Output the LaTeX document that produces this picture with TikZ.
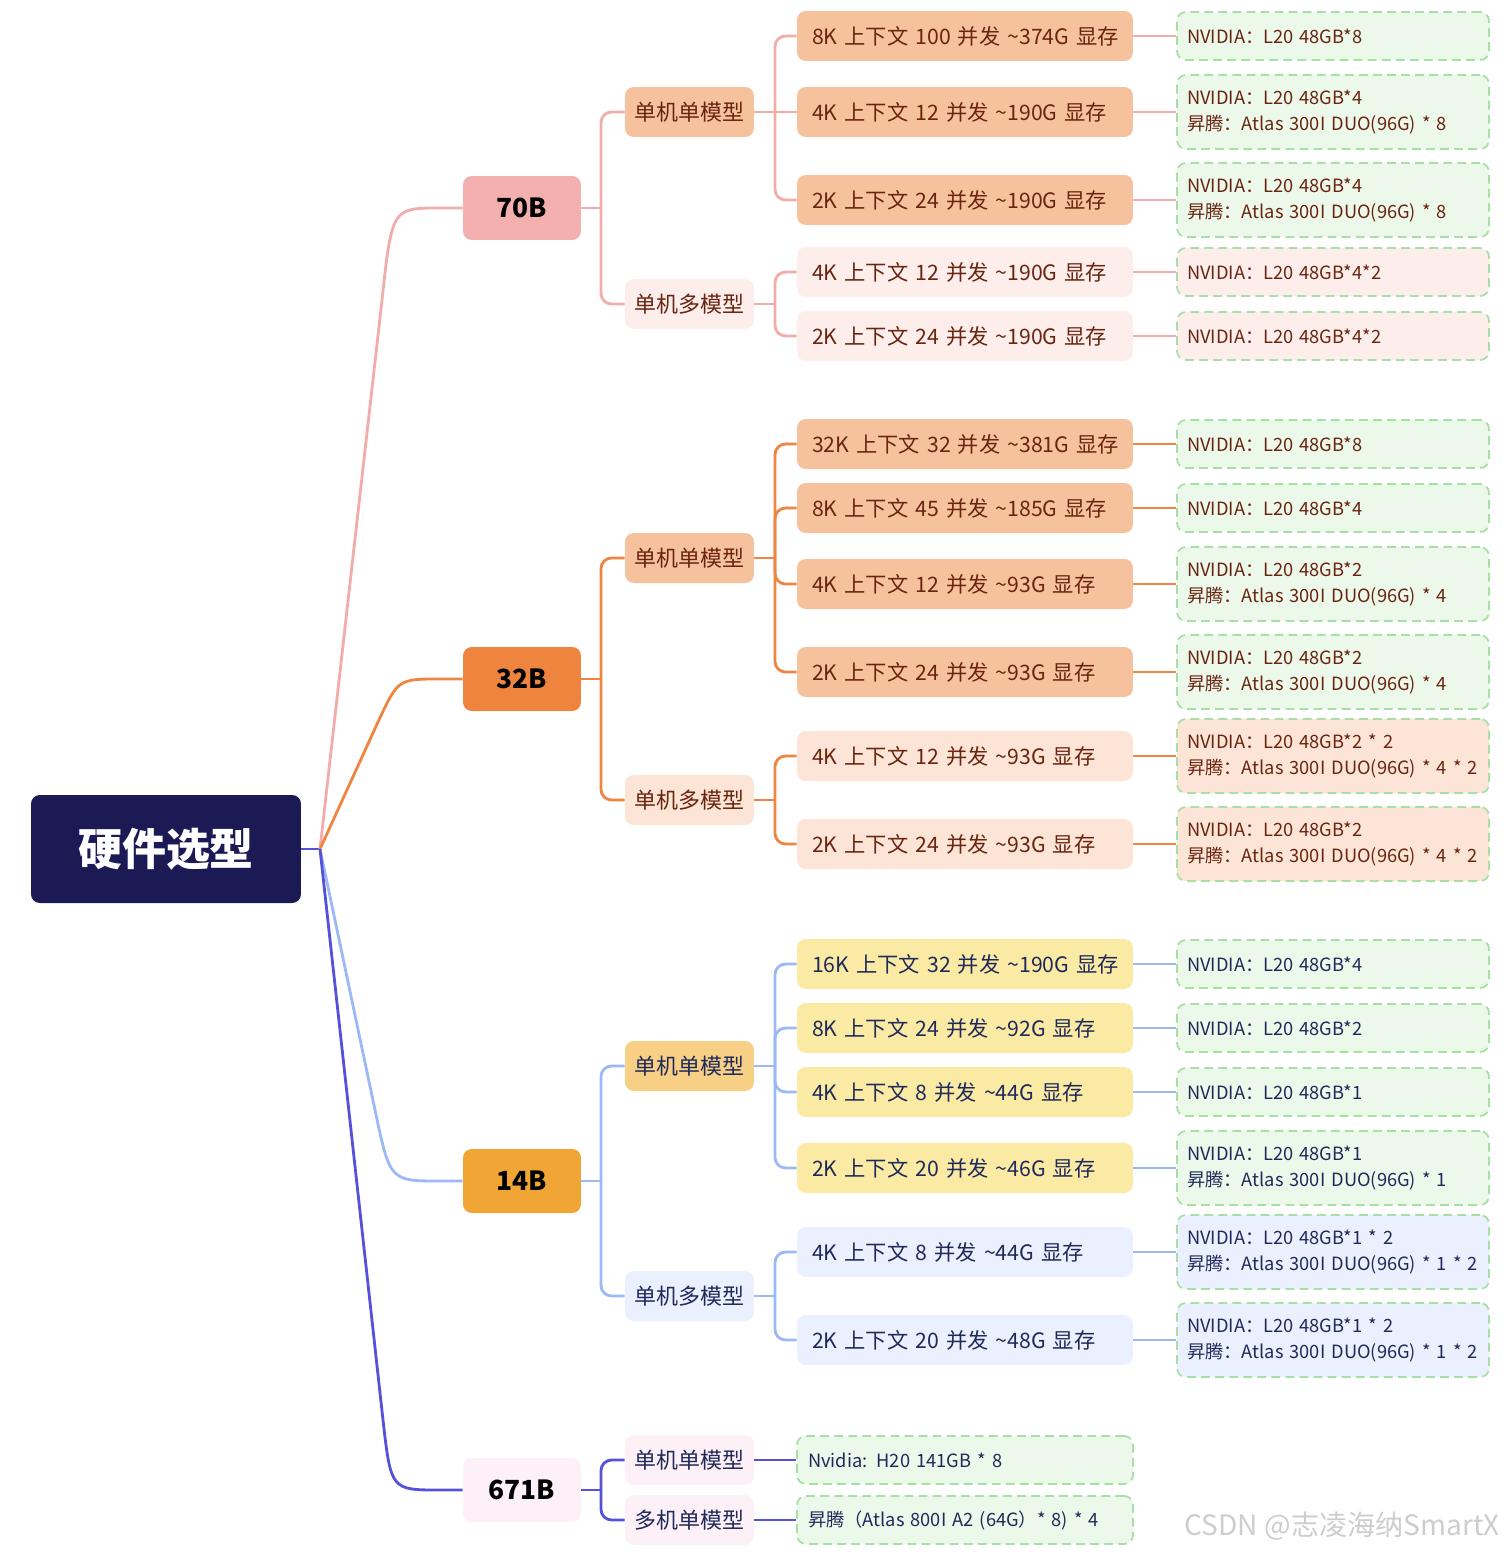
\documentclass[tikz,border=0pt]{standalone}
\usepackage{fontspec}
\setmainfont{Noto Sans CJK SC}
\usepackage{xcolor}
\usepackage{tikz}

\definecolor{rootblue}{HTML}{1C1A55}
\definecolor{ln70}{HTML}{F2ADAA}
\definecolor{ln32}{HTML}{EF8541}
\definecolor{ln14}{HTML}{9BB9F7}
\definecolor{ln671}{HTML}{5552D9}
\definecolor{f70}{HTML}{F3B0AE}
\definecolor{f32}{HTML}{EF843F}
\definecolor{f14}{HTML}{F0A535}
\definecolor{f671}{HTML}{FDF0F7}
\definecolor{peach}{HTML}{F6C29E}
\definecolor{pinklt}{HTML}{FDEEEC}
\definecolor{orangelt}{HTML}{FCE5D6}
\definecolor{yellowmd}{HTML}{F7D085}
\definecolor{yellowlt}{HTML}{FBEAA3}
\definecolor{bluelt}{HTML}{EAF0FD}
\definecolor{gpugreen}{HTML}{EBF8EA}
\definecolor{dashgreen}{HTML}{A7DFA5}
\definecolor{brown}{HTML}{6A2410}
\definecolor{navy}{HTML}{1F2A5B}
\definecolor{mark}{HTML}{CDCDCD}

% one line of text, never broken
\newcommand{\oneline}[1]{\mbox{#1}}

\begin{document}
\begin{tikzpicture}[x=0.02cm, y=-0.02cm,
            rootbox/.style={rectangle, rounded corners=5pt, fill=rootblue, text=white, minimum width=5.4cm, minimum height=2.16cm, font=\fontsize{25}{30}\selectfont\bfseries},
            sizebox/.style={rectangle, rounded corners=5pt, minimum width=2.36cm, minimum height=1.28cm, font=\fontsize{15}{18}\selectfont\bfseries},
            modebox/.style={rectangle, rounded corners=5pt, minimum width=2.58cm, minimum height=1cm, inner sep=0pt, font=\fontsize{12.5}{15}\selectfont},
            ctxbox/.style={rectangle, rounded corners=5pt, minimum height=1cm, text width=6.12cm, inner xsep=0.3cm, inner ysep=0pt, align=left, font=\fontsize{12.1}{15}\selectfont},
            gpubox/.style={rectangle, rounded corners=5pt, draw=dashgreen, line width=1pt, dash pattern=on 5pt off 3pt, fill=gpugreen, text width=5.84cm, inner xsep=0.2cm, inner ysep=0pt, minimum height=0.96cm, align=left, font=\fontsize{10.4}{15.3}\selectfont},
            gpuwide/.style={gpubox, text width=6.28cm, inner xsep=0.22cm},
            twoline/.style={minimum height=1.48cm},
            link/.style={line width=1.6pt}]

            \useasboundingbox (0,0) rectangle (1508,1552);

            \node[rootbox] (hw) at (166,849) {硬件选型};

            % 70B
            \node[sizebox, fill=f70] (m70) at (522,208) {70B};
            \node[modebox, fill=peach, text=brown] (m70a) at (689.5,112) {单机单模型};
            \node[modebox, fill=pinklt, text=brown] (m70b) at (689.5,304) {单机多模型};
            \node[ctxbox, fill=peach, text=brown] (c70a1) at (965,36) {\oneline{8K 上下文 100 并发 \textasciitilde374G 显存}};
            \node[ctxbox, fill=peach, text=brown] (c70a2) at (965,112) {\oneline{4K 上下文 12 并发 \textasciitilde190G 显存}};
            \node[ctxbox, fill=peach, text=brown] (c70a3) at (965,200) {\oneline{2K 上下文 24 并发 \textasciitilde190G 显存}};
            \node[ctxbox, fill=pinklt, text=brown] (c70b1) at (965,272) {\oneline{4K 上下文 12 并发 \textasciitilde190G 显存}};
            \node[ctxbox, fill=pinklt, text=brown] (c70b2) at (965,336) {\oneline{2K 上下文 24 并发 \textasciitilde190G 显存}};
            \node[gpubox, text=brown] (g70a1) at (1333,36) {NVIDIA：L20 48GB*8};
            \node[gpubox, twoline, text=brown] (g70a2) at (1333,112) {NVIDIA：L20 48GB*4\\昇腾：Atlas 300I DUO(96G) * 8};
            \node[gpubox, twoline, text=brown] (g70a3) at (1333,200) {NVIDIA：L20 48GB*4\\昇腾：Atlas 300I DUO(96G) * 8};
            \node[gpubox, fill=pinklt, text=brown] (g70b1) at (1333,272) {NVIDIA：L20 48GB*4*2};
            \node[gpubox, fill=pinklt, text=brown] (g70b2) at (1333,336) {NVIDIA：L20 48GB*4*2};

            % 32B
            \node[sizebox, fill=f32] (m32) at (522,679) {32B};
            \node[modebox, fill=peach, text=brown] (m32a) at (689.5,558) {单机单模型};
            \node[modebox, fill=orangelt, text=brown] (m32b) at (689.5,800) {单机多模型};
            \node[ctxbox, fill=peach, text=brown] (c32a1) at (965,444) {\oneline{32K 上下文 32 并发 \textasciitilde381G 显存}};
            \node[ctxbox, fill=peach, text=brown] (c32a2) at (965,508) {\oneline{8K 上下文 45 并发 \textasciitilde185G 显存}};
            \node[ctxbox, fill=peach, text=brown] (c32a3) at (965,584) {\oneline{4K 上下文 12 并发 \textasciitilde93G 显存}};
            \node[ctxbox, fill=peach, text=brown] (c32a4) at (965,672) {\oneline{2K 上下文 24 并发 \textasciitilde93G 显存}};
            \node[ctxbox, fill=orangelt, text=brown] (c32b1) at (965,756) {\oneline{4K 上下文 12 并发 \textasciitilde93G 显存}};
            \node[ctxbox, fill=orangelt, text=brown] (c32b2) at (965,844) {\oneline{2K 上下文 24 并发 \textasciitilde93G 显存}};
            \node[gpubox, text=brown] (g32a1) at (1333,444) {NVIDIA：L20 48GB*8};
            \node[gpubox, text=brown] (g32a2) at (1333,508) {NVIDIA：L20 48GB*4};
            \node[gpubox, twoline, text=brown] (g32a3) at (1333,584) {NVIDIA：L20 48GB*2\\昇腾：Atlas 300I DUO(96G) * 4};
            \node[gpubox, twoline, text=brown] (g32a4) at (1333,672) {NVIDIA：L20 48GB*2\\昇腾：Atlas 300I DUO(96G) * 4};
            \node[gpubox, twoline, fill=orangelt, text=brown] (g32b1) at (1333,756) {NVIDIA：L20 48GB*2 * 2\\\oneline{昇腾：Atlas 300I DUO(96G) * 4 * 2}};
            \node[gpubox, twoline, fill=orangelt, text=brown] (g32b2) at (1333,844) {NVIDIA：L20 48GB*2\\\oneline{昇腾：Atlas 300I DUO(96G) * 4 * 2}};

            % 14B
            \node[sizebox, fill=f14] (m14) at (522,1181) {14B};
            \node[modebox, fill=yellowmd, text=navy] (m14a) at (689.5,1066) {单机单模型};
            \node[modebox, fill=bluelt, text=navy] (m14b) at (689.5,1296) {单机多模型};
            \node[ctxbox, fill=yellowlt, text=navy] (c14a1) at (965,964) {\oneline{16K 上下文 32 并发 \textasciitilde190G 显存}};
            \node[ctxbox, fill=yellowlt, text=navy] (c14a2) at (965,1028) {\oneline{8K 上下文 24 并发 \textasciitilde92G 显存}};
            \node[ctxbox, fill=yellowlt, text=navy] (c14a3) at (965,1092) {\oneline{4K 上下文 8 并发 \textasciitilde44G 显存}};
            \node[ctxbox, fill=yellowlt, text=navy] (c14a4) at (965,1168) {\oneline{2K 上下文 20 并发 \textasciitilde46G 显存}};
            \node[ctxbox, fill=bluelt, text=navy] (c14b1) at (965,1252) {\oneline{4K 上下文 8 并发 \textasciitilde44G 显存}};
            \node[ctxbox, fill=bluelt, text=navy] (c14b2) at (965,1340) {\oneline{2K 上下文 20 并发 \textasciitilde48G 显存}};
            \node[gpubox, text=navy] (g14a1) at (1333,964) {NVIDIA：L20 48GB*4};
            \node[gpubox, text=navy] (g14a2) at (1333,1028) {NVIDIA：L20 48GB*2};
            \node[gpubox, text=navy] (g14a3) at (1333,1092) {NVIDIA：L20 48GB*1};
            \node[gpubox, twoline, text=navy] (g14a4) at (1333,1168) {NVIDIA：L20 48GB*1\\昇腾：Atlas 300I DUO(96G) * 1};
            \node[gpubox, twoline, fill=bluelt, text=navy] (g14b1) at (1333,1252) {NVIDIA：L20 48GB*1 * 2\\\oneline{昇腾：Atlas 300I DUO(96G) * 1 * 2}};
            \node[gpubox, twoline, fill=bluelt, text=navy] (g14b2) at (1333,1340) {NVIDIA：L20 48GB*1 * 2\\\oneline{昇腾：Atlas 300I DUO(96G) * 1 * 2}};

            % 671B
            \node[sizebox, fill=f671] (m671) at (522,1490) {671B};
            \node[modebox, fill=f671, text=navy] (m671a) at (689.5,1460) {单机单模型};
            \node[modebox, fill=f671, text=navy] (m671b) at (689.5,1520) {多机单模型};
            \node[gpuwide, text=navy] (g671a) at (965,1460) {Nvidia: H20 141GB * 8};
            \node[gpuwide, text=navy] (g671b) at (965,1520) {昇腾（Atlas 800I A2 (64G）* 8) * 4};

            \node[text=mark, anchor=east, font=\fontsize{16}{19}\selectfont] (wm) at (1506,1526) {CSDN @志凌海纳SmartX};

            % root links
            \coordinate (r) at (320,849);
            \draw[link, ln671] (hw.east) -- (r);
            \draw[link, ln70] (r) -- (382,300) .. controls (392,208) .. (440,208) -- (m70.west);
            \draw[link, ln32] (r) -- (378,722) .. controls (398,679) .. (440,679) -- (m32.west);
            \draw[link, ln14] (r) -- (375,1110) .. controls (390,1181) .. (440,1181) -- (m14.west);
            \draw[link, ln671] (r) -- (383,1420) .. controls (391,1490) .. (440,1490) -- (m671.west);

            % 70B links
            \coordinate (j70) at (601,208);
            \draw[link, ln70] (m70.east) -- (j70);
            \draw[link, ln70, rounded corners=6pt] (j70) |- (m70a.west);
            \draw[link, ln70, rounded corners=6pt] (j70) |- (m70b.west);
            \coordinate (k70a) at (775,112);
            \coordinate (k70b) at (775,304);
            \draw[link, ln70] (m70a.east) -- (k70a);
            \draw[link, ln70, rounded corners=6pt] (k70a) |- (c70a1.west);
            \draw[link, ln70] (k70a) -- (c70a2.west);
            \draw[link, ln70, rounded corners=6pt] (k70a) |- (c70a3.west);
            \draw[link, ln70] (m70b.east) -- (k70b);
            \draw[link, ln70, rounded corners=6pt] (k70b) |- (c70b1.west);
            \draw[link, ln70, rounded corners=6pt] (k70b) |- (c70b2.west);
            \draw[link, ln70] (c70a1.east) -- (g70a1.west);
            \draw[link, ln70] (c70a2.east) -- (g70a2.west);
            \draw[link, ln70] (c70a3.east) -- (g70a3.west);
            \draw[link, ln70] (c70b1.east) -- (g70b1.west);
            \draw[link, ln70] (c70b2.east) -- (g70b2.west);

            % 32B links
            \coordinate (j32) at (601,679);
            \draw[link, ln32] (m32.east) -- (j32);
            \draw[link, ln32, rounded corners=6pt] (j32) |- (m32a.west);
            \draw[link, ln32, rounded corners=6pt] (j32) |- (m32b.west);
            \coordinate (k32a) at (775,558);
            \coordinate (k32b) at (775,800);
            \draw[link, ln32] (m32a.east) -- (k32a);
            \draw[link, ln32, rounded corners=6pt] (k32a) |- (c32a1.west);
            \draw[link, ln32, rounded corners=6pt] (k32a) |- (c32a2.west);
            \draw[link, ln32, rounded corners=6pt] (k32a) |- (c32a3.west);
            \draw[link, ln32, rounded corners=6pt] (k32a) |- (c32a4.west);
            \draw[link, ln32] (m32b.east) -- (k32b);
            \draw[link, ln32, rounded corners=6pt] (k32b) |- (c32b1.west);
            \draw[link, ln32, rounded corners=6pt] (k32b) |- (c32b2.west);
            \draw[link, ln32] (c32a1.east) -- (g32a1.west);
            \draw[link, ln32] (c32a2.east) -- (g32a2.west);
            \draw[link, ln32] (c32a3.east) -- (g32a3.west);
            \draw[link, ln32] (c32a4.east) -- (g32a4.west);
            \draw[link, ln32] (c32b1.east) -- (g32b1.west);
            \draw[link, ln32] (c32b2.east) -- (g32b2.west);

            % 14B links
            \coordinate (j14) at (601,1181);
            \draw[link, ln14] (m14.east) -- (j14);
            \draw[link, ln14, rounded corners=6pt] (j14) |- (m14a.west);
            \draw[link, ln14, rounded corners=6pt] (j14) |- (m14b.west);
            \coordinate (k14a) at (775,1066);
            \coordinate (k14b) at (775,1296);
            \draw[link, ln14] (m14a.east) -- (k14a);
            \draw[link, ln14, rounded corners=6pt] (k14a) |- (c14a1.west);
            \draw[link, ln14, rounded corners=6pt] (k14a) |- (c14a2.west);
            \draw[link, ln14, rounded corners=6pt] (k14a) |- (c14a3.west);
            \draw[link, ln14, rounded corners=6pt] (k14a) |- (c14a4.west);
            \draw[link, ln14] (m14b.east) -- (k14b);
            \draw[link, ln14, rounded corners=6pt] (k14b) |- (c14b1.west);
            \draw[link, ln14, rounded corners=6pt] (k14b) |- (c14b2.west);
            \draw[link, ln14] (c14a1.east) -- (g14a1.west);
            \draw[link, ln14] (c14a2.east) -- (g14a2.west);
            \draw[link, ln14] (c14a3.east) -- (g14a3.west);
            \draw[link, ln14] (c14a4.east) -- (g14a4.west);
            \draw[link, ln14] (c14b1.east) -- (g14b1.west);
            \draw[link, ln14] (c14b2.east) -- (g14b2.west);

            % 671B links
            \coordinate (j671) at (601,1490);
            \draw[link, ln671] (m671.east) -- (j671);
            \draw[link, ln671, rounded corners=6pt] (j671) |- (m671a.west);
            \draw[link, ln671, rounded corners=6pt] (j671) |- (m671b.west);
            \draw[link, ln671] (m671a.east) -- (g671a.west);
            \draw[link, ln671] (m671b.east) -- (g671b.west);
        \end{tikzpicture}
\end{document}
